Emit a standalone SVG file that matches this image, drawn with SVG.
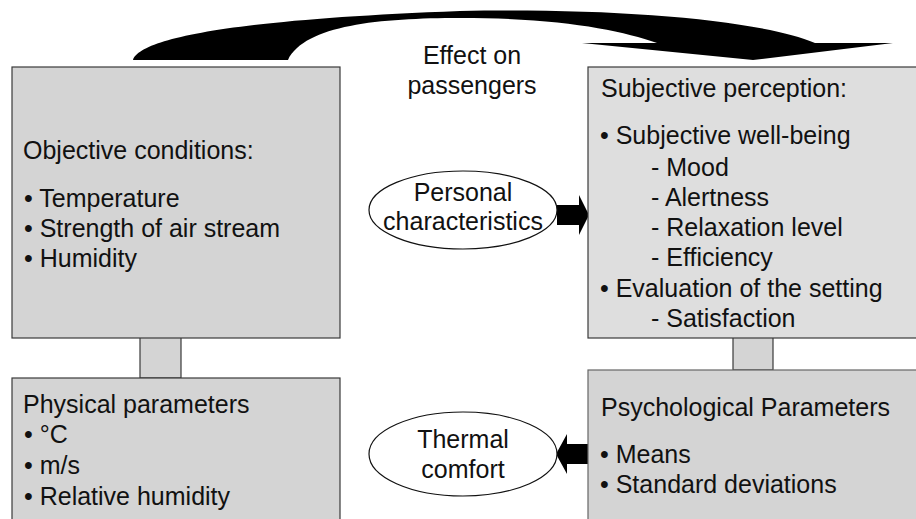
<svg xmlns="http://www.w3.org/2000/svg" width="916" height="519" viewBox="0 0 916 519">
<style>
text{font-family:"Liberation Sans",Arial,sans-serif;font-size:25px;fill:#111}
.box{fill:#d4d4d4;stroke:#3a3a3a;stroke-width:1.2}
.boxl{fill:#dedede;stroke:#3a3a3a;stroke-width:1.2}
.ell{fill:#fff;stroke:#111;stroke-width:1.2}
.c{text-anchor:middle}
</style>
<rect width="916" height="519" fill="#fff"/>
<g id="connectors">
<rect class="box" x="140" y="337" width="41" height="41"/>
<rect class="box" x="733" y="337" width="40" height="33"/>
<path d="M133,60 C140,40 220,20 460,11 C620,8 760,20 815,43 L893,43 L753,60 L582,43 L657,43 C620,30 560,18 460,18 C380,18 305,25 288,60 Z" fill="#000"/>
<polygon points="557,205 579,205 579,195 589,215 579,235 579,225 557,225" fill="#000"/>
<polygon points="588,444 567,444 567,434 556,454 567,474 567,464 588,464" fill="#000"/>
</g>
<g id="effect-label">
<text class="c" x="472" y="64">Effect on</text>
<text class="c" x="472" y="94">passengers</text>
</g>
<g id="objective">
<rect class="box" x="12" y="67" width="328" height="271"/>
<text x="23" y="159">Objective conditions:</text>
<text x="24" y="207">• Temperature</text>
<text x="24" y="237">• Strength of air stream</text>
<text x="24" y="267">• Humidity</text>
</g>
<g id="physical">
<rect class="box" x="12" y="378" width="328" height="150"/>
<text x="23" y="413">Physical parameters</text>
<text x="24" y="443">• °C</text>
<text x="24" y="474">• m/s</text>
<text x="24" y="505">• Relative humidity</text>
</g>
<g id="subjective">
<rect class="boxl" x="588" y="67" width="340" height="271"/>
<text x="601" y="97">Subjective perception:</text>
<text x="600" y="144">• Subjective well-being</text>
<text x="651" y="176">- Mood</text>
<text x="651" y="206">- Alertness</text>
<text x="651" y="236">- Relaxation level</text>
<text x="651" y="266">- Efficiency</text>
<text x="600" y="297">• Evaluation of the setting</text>
<text x="651" y="327">- Satisfaction</text>
</g>
<g id="psychological">
<rect class="box" x="588" y="370" width="340" height="160" style="stroke:#666"/>
<text x="601" y="416">Psychological Parameters</text>
<text x="600" y="463">• Means</text>
<text x="600" y="493">• Standard deviations</text>
</g>
<g id="personal">
<ellipse class="ell" cx="463" cy="210" rx="94" ry="39"/>
<text class="c" x="463" y="201">Personal</text>
<text class="c" x="463" y="230">characteristics</text>
</g>
<g id="thermal">
<ellipse class="ell" cx="463" cy="454" rx="94" ry="42"/>
<text class="c" x="463" y="448">Thermal</text>
<text class="c" x="463" y="478">comfort</text>
</g>
</svg>
